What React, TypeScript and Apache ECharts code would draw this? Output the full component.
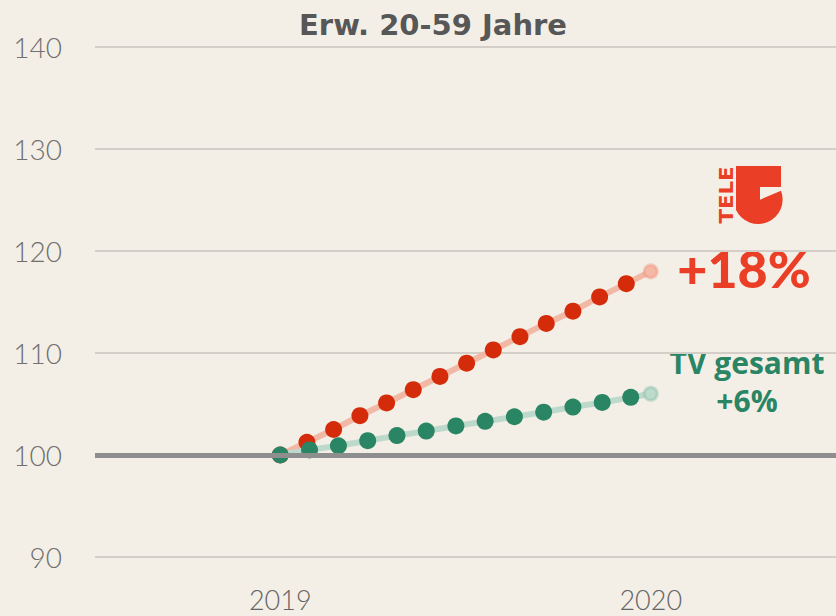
import React, { useEffect, useRef } from "react";
import * as echarts from "echarts";

const title = "Erw. 20-59 Jahre";
const yTicks = [90, 100, 110, 120, 130, 140];
const xYears = [2019, 2020];

const tele5X = [2019, 2019.072, 2019.144, 2019.215, 2019.287, 2019.359, 2019.431, 2019.503, 2019.575, 2019.647, 2019.718, 2019.79, 2019.862, 2019.934, 2020];
const tele5Y = [100, 101.25, 102.5, 103.85, 105.1, 106.4, 107.7, 109.0, 110.3, 111.6, 112.9, 114.1, 115.5, 116.8, 118];
const tvX = [2019, 2019.079, 2019.157, 2019.236, 2019.315, 2019.394, 2019.474, 2019.553, 2019.632, 2019.711, 2019.79, 2019.869, 2019.946, 2020];
const tvY = [100, 100.5, 100.9, 101.4, 101.9, 102.35, 102.85, 103.3, 103.75, 104.2, 104.7, 105.15, 105.65, 106];

const tele5Label = "+18%";
const tvName = "TV gesamt";
const tvLabel = "+6%";

const RED = "#d42c0b";
const RED_LIGHT = "#f2b8a6";
const BRAND_RED = "#ea3f26";
const GREEN = "#2a8565";
const GREEN_LIGHT = "#bdd9cc";

echarts.graphic.registerShape(
  "tele5logo",
  echarts.graphic.extendPath(
    "M0,0 H45 V21 H24 V33.7 L45,24.7 A24.5,24.5 0 0 1 0,44 Z",
    {}
  )
);

function buildData(xs: number[], ys: number[], endColor: string, endBorder: string) {
  return xs.map((x, i) => {
    const last = i === xs.length - 1;
    return last
      ? {
          value: [x, ys[i]],
          symbolSize: 13,
          itemStyle: { color: endColor, borderColor: endBorder, borderWidth: 3 },
        }
      : { value: [x, ys[i]] };
  });
}

export default function App() {
  const ref = useRef<HTMLDivElement>(null);
  useEffect(() => {
    if (!ref.current) return;
    const chart = echarts.init(ref.current, null, { renderer: "svg" });
    chart.setOption({
      animation: false,
      backgroundColor: "#f4efe6",
      title: {
        text: title,
        left: 428,
        textAlign: "center",
        top: 5,
        textStyle: { fontFamily: "DejaVu Sans", fontWeight: "bold", fontSize: 29, color: "#575757" },
      },
      grid: { left: 95, right: 0, top: 47, bottom: 59 },
      xAxis: {
        type: "value",
        min: 2018.5,
        max: 2020.5,
        axisLine: { show: false },
        axisTick: { show: false },
        splitLine: { show: false },
        axisLabel: {
          customValues: xYears,
          margin: 29,
          fontFamily: "Lato",
          fontWeight: 300,
          fontSize: 27,
          color: "#666666",
          formatter: (v: number) => String(v),
        },
      },
      yAxis: {
        type: "value",
        min: yTicks[0],
        max: yTicks[yTicks.length - 1],
        interval: 10,
        axisLine: { show: false },
        axisTick: { show: false },
        axisLabel: {
          margin: 33,
          fontFamily: "Lato",
          fontWeight: 300,
          fontSize: 28,
          color: "#707070",
        },
        splitLine: { lineStyle: { color: "#d3cec7", width: 2 } },
      },
      series: [
        {
          type: "line",
          data: [],
          z: 1,
          markLine: {
            silent: true,
            symbol: "none",
            label: { show: false },
            lineStyle: { color: "#8e8e8e", width: 5, type: "solid" },
            data: [{ yAxis: 100 }],
          },
        },
        {
          name: "Tele 5",
          type: "line",
          z: 3,
          data: buildData(tele5X, tele5Y, "#f6b8a6", "rgba(238,150,128,0.45)"),
          symbol: "circle",
          symbolSize: 17,
          showAllSymbol: true,
          itemStyle: { color: RED },
          lineStyle: { color: RED_LIGHT, width: 6 },
        },
        {
          name: tvName,
          type: "line",
          z: 4,
          data: buildData(tvX, tvY, "#bddbcd", "rgba(140,190,170,0.45)"),
          symbol: "circle",
          symbolSize: 17,
          showAllSymbol: true,
          itemStyle: { color: GREEN },
          lineStyle: { color: GREEN_LIGHT, width: 6 },
        },
      ],
      graphic: [
        {
          type: "tele5logo",
          x: 736,
          y: 166,
          style: { fill: BRAND_RED },
        },
        {
          type: "text",
          x: 726,
          y: 195,
          rotation: Math.PI / 2,
          scaleX: 1.12,
          style: {
            text: "TELE",
            fill: BRAND_RED,
            font: "bold 19px 'DejaVu Sans'",
            align: "center",
            verticalAlign: "middle",
          },
        },
        {
          type: "text",
          x: 744,
          y: 268,
          style: {
            text: tele5Label,
            fill: BRAND_RED,
            font: "900 52px Lato",
            align: "center",
            verticalAlign: "middle",
          },
        },
        {
          type: "text",
          x: 747,
          y: 362,
          style: {
            text: tvName,
            fill: GREEN,
            font: "bold 30px 'Open Sans'",
            align: "center",
            verticalAlign: "middle",
          },
        },
        {
          type: "text",
          x: 747,
          y: 400,
          style: {
            text: tvLabel,
            fill: GREEN,
            font: "bold 30px 'Open Sans'",
            align: "center",
            verticalAlign: "middle",
          },
        },
      ],
    });
    return () => chart.dispose();
  }, []);
  return (
    <div
      ref={ref}
      style={{ position: "fixed", left: 0, top: 0, width: 836, height: 616 }}
    />
  );
}
